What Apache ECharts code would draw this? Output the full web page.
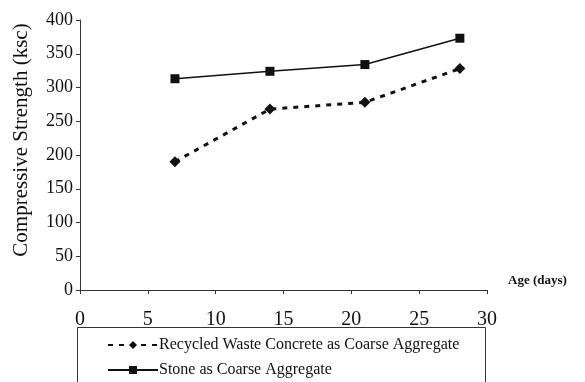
<!DOCTYPE html>
<html>
<head>
<meta charset="utf-8">
<script src="https://cdn.jsdelivr.net/npm/echarts@6/dist/echarts.min.js"></script>
<style>html,body{margin:0;padding:0;background:#fff;}#c{width:585px;height:382px;}</style>
</head>
<body>
<div id="c"></div>
<script>
const ages = [7, 14, 21, 28];
const recycled = [190, 268, 278, 328];
const stone = [313, 324, 334, 373];
const seriesNames = ['Recycled Waste Concrete as Coarse Aggregate', 'Stone as Coarse Aggregate'];
const xTitle = 'Age (days)';
const yTitle = 'Compressive Strength (ksc)';

const font = '"Liberation Serif", "Times New Roman", serif';
const legendCommon = {
  orient: 'horizontal',
  padding: 0,
  itemWidth: 50, itemHeight: 10,
  textStyle: {fontFamily: font, fontSize: 16, color: '#111', padding: [0, 0, 0, -4]}
};
const chart = echarts.init(document.getElementById('c'), null, {renderer: 'canvas'});
chart.setOption({
  backgroundColor: '#ffffff',
  animation: false,
  grid: {left: 80, right: 98, top: 20, bottom: 92, containLabel: false, outerBoundsMode: 'none'},
  graphic: [{
    type: 'rect', z: -1,
    shape: {x: 77.5, y: 327.5, width: 408, height: 70},
    style: {fill: 'none', stroke: '#333', lineWidth: 1}
  }],
  legend: [
    Object.assign({}, legendCommon, {left: 107, top: 337, data: [seriesNames[0]]}),
    Object.assign({}, legendCommon, {left: 107, top: 362, data: [seriesNames[1]]})
  ],
  xAxis: {
    type: 'value', min: 0, max: 30, interval: 5,
    name: xTitle, nameLocation: 'end', nameGap: 21,
    nameTextStyle: {fontFamily: font, fontSize: 13, fontWeight: 'bold', color: '#111', verticalAlign: 'bottom', padding: [0, 0, 3, 0]},
    axisLine: {lineStyle: {color: '#333', width: 1}},
    axisTick: {show: true, length: 4, lineStyle: {color: '#333'}},
    axisLabel: {fontFamily: font, fontSize: 20, color: '#111', margin: 20},
    splitLine: {show: false}
  },
  yAxis: {
    type: 'value', min: 0, max: 400, interval: 50,
    name: yTitle, nameLocation: 'middle', nameGap: 48, nameRotate: 90,
    nameTextStyle: {fontFamily: font, fontSize: 21, color: '#111', padding: [0, 0, 0, 30]},
    axisLine: {show: true, lineStyle: {color: '#333', width: 1}},
    axisTick: {show: true, length: 4, lineStyle: {color: '#333'}},
    axisLabel: {fontFamily: font, fontSize: 18, color: '#111', margin: 7},
    splitLine: {show: false}
  },
  series: [
    {
      name: seriesNames[0], type: 'line',
      data: ages.map((a, i) => [a, recycled[i]]),
      symbol: 'diamond', symbolSize: 11,
      itemStyle: {color: '#111'},
      lineStyle: {color: '#111', width: 3, type: [5, 6]}
    },
    {
      name: seriesNames[1], type: 'line',
      data: ages.map((a, i) => [a, stone[i]]),
      symbol: 'rect', symbolSize: 9,
      itemStyle: {color: '#111'},
      lineStyle: {color: '#111', width: 1.5, type: 'solid'}
    }
  ]
});
</script>
</body>
</html>
